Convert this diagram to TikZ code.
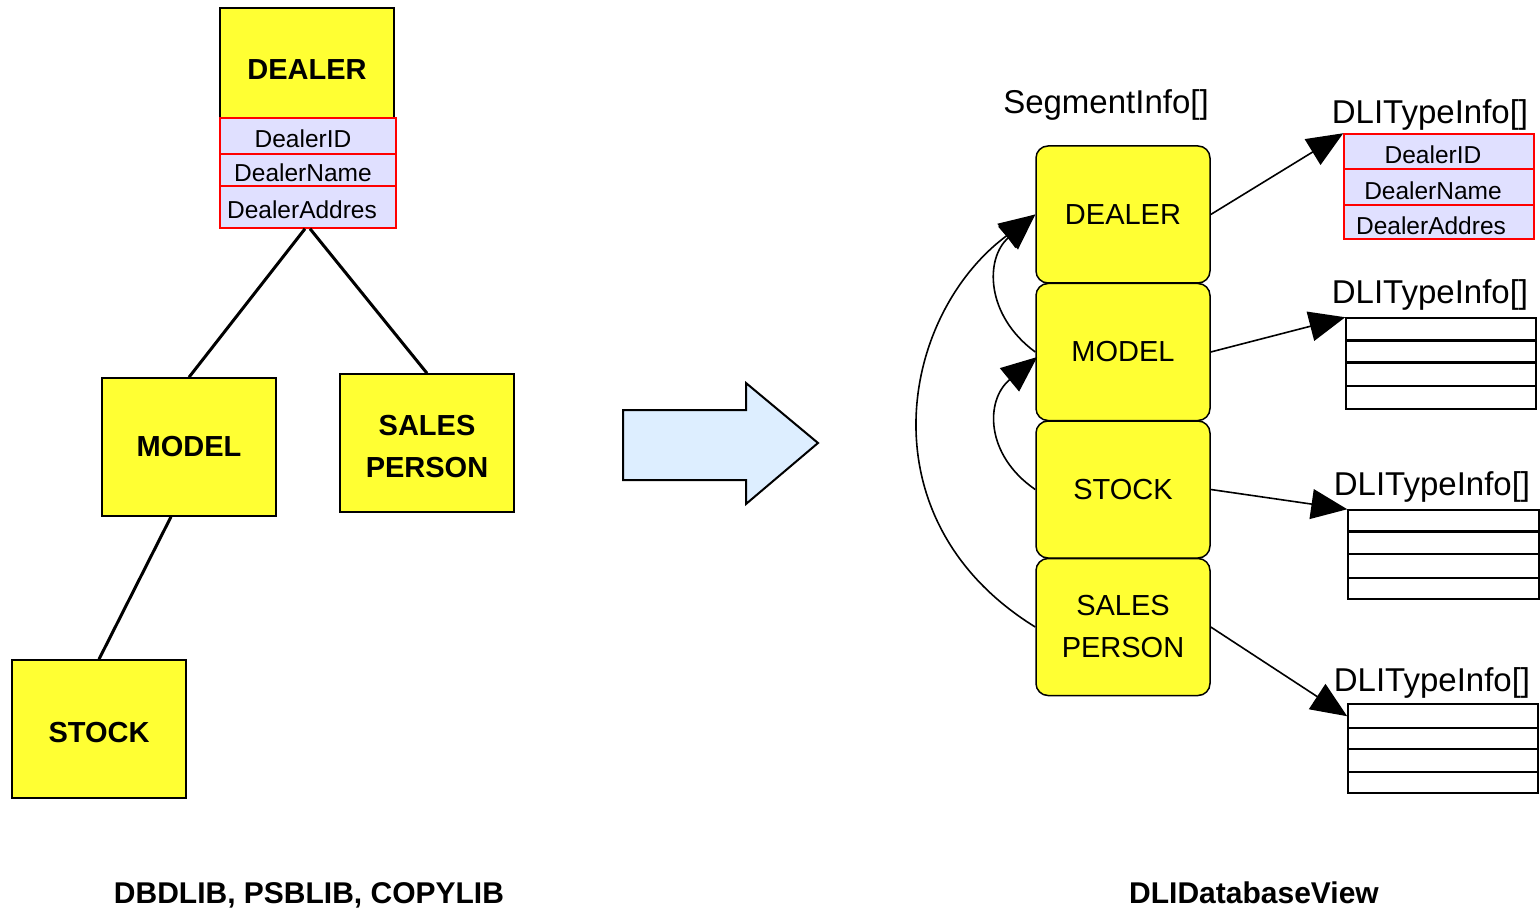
\documentclass[tikz,border=0pt]{standalone}
\usepackage{fontspec}
\setmainfont{Liberation Sans}
\usetikzlibrary{arrows.meta,calc}
\definecolor{segyellow}{HTML}{FFFF33}
\definecolor{fieldlav}{HTML}{E0E0FF}
\definecolor{arrowblue}{HTML}{DDEEFF}
\definecolor{fieldred}{HTML}{FF0000}
\begin{document}
\begin{tikzpicture}[x=1pt,y=-1pt,
  lbox/.style={draw, line width=1.5pt, fill=segyellow, inner sep=0pt, minimum width=174pt, minimum height=138pt, font=\fontsize{29}{42}\selectfont\bfseries, align=center},
  field/.style={draw=fieldred, line width=1.5pt, fill=fieldlav, inner sep=0pt, text height=23pt, text depth=0pt, font=\fontsize{24.5}{28}\selectfont},
  rfield/.style={field, text height=25pt},
  seg/.style={draw, line width=1.5pt, fill=segyellow, rounded corners=12pt, inner sep=0pt, minimum width=174pt, minimum height=137pt, font=\fontsize{29}{42}\selectfont, align=center},
  arr/.style={draw, line width=1.5pt, fill=white, inner sep=0pt},
  lbl/.style={inner sep=0pt, font=\fontsize{33}{38}\selectfont},
  captxt/.style={inner sep=0pt, font=\fontsize{30}{36}\selectfont\bfseries},
  tree/.style={line width=3pt},
  conn/.style={line width=1.6pt, -{Triangle[length=36pt,width=30pt]}}
]
\useasboundingbox (0,0) rectangle (1540,909);
\fill[white] (0,0) rectangle (1540,909);

% ---------- left tree ----------
\node[lbox, minimum height=110pt, text height=34pt, text depth=0pt] (dealerL) at (307,63) {DEALER};
\node[field, minimum width=176pt, minimum height=36pt] (f1) at (308,136) {DealerID\kern10pt};
\node[field, minimum width=176pt, minimum height=32pt] (f2) at (308,170) {DealerName\kern10pt};
\node[field, minimum width=176pt, minimum height=42pt] (f3) at (308,207) {DealerAddres\kern12pt};
\node[lbox] (modelL) at (189,447) {MODEL};
\node[lbox, text height=69pt, text depth=0pt] (salesL) at (427,443) {SALES\\PERSON};
\node[lbox, text height=27pt, text depth=0pt] (stockL) at (99,729) {STOCK};

\draw[tree] ($(f3.south)+(-3,0)$) -- (modelL.north);
\draw[tree] ($(f3.south)+(2,0)$) -- (salesL.north);
\draw[tree] ($(modelL.south)+(-18,0)$) -- (stockL.north);

\node[captxt] (capL) at (309,895) {DBDLIB, PSBLIB, COPYLIB};

% ---------- block arrow ----------
\draw[line width=2pt, fill=arrowblue, line join=miter]
  (623,410) -- (746,410) -- (746,383) -- (818,443) -- (746,504) -- (746,480) -- (623,480) -- cycle;

% ---------- right side ----------
\node[lbl] (segTitle) at (1106,105) {SegmentInfo[]};
\node[seg] (dealerR) at (1123,214.5) {DEALER};
\node[seg] (modelR) at (1123,352) {MODEL};
\node[seg] (stockR) at (1123,489.5) {STOCK};
\node[seg] (salesR) at (1123,627) {SALES\\PERSON};

% array 1
\node[lbl] (t1) at (1430,115) {DLITypeInfo[]};
\node[rfield, minimum width=190pt, minimum height=35pt] (a1r1) at (1439,151.5) {DealerID\kern12pt};
\node[rfield, minimum width=190pt, minimum height=36pt] (a1r2) at (1439,187) {DealerName\kern12pt};
\node[rfield, minimum width=190pt, minimum height=34pt] (a1r3) at (1439,222) {DealerAddres\kern16pt};

% array 2
\node[lbl] (t2) at (1430,295) {DLITypeInfo[]};
\node[arr, minimum width=190pt, minimum height=91pt] (a2) at (1441,363.5) {};
\draw[line width=3pt] (a2.west |- 0,341) -- (a2.east |- 0,341);
\draw[line width=3pt] (a2.west |- 0,363) -- (a2.east |- 0,363);
\draw[line width=1.5pt] (a2.west |- 0,386) -- (a2.east |- 0,386);

% array 3
\node[lbl] (t3) at (1432,487) {DLITypeInfo[]};
\node[arr, minimum width=191pt, minimum height=89pt] (a3) at (1443.5,554.5) {};
\draw[line width=3pt] (a3.west |- 0,531) -- (a3.east |- 0,531);
\draw[line width=1.5pt] (a3.west |- 0,554) -- (a3.east |- 0,554);
\draw[line width=1.5pt] (a3.west |- 0,578) -- (a3.east |- 0,578);

% array 4
\node[lbl] (t4) at (1432,683) {DLITypeInfo[]};
\node[arr, minimum width=190pt, minimum height=89pt] (a4) at (1443,748.5) {};
\draw[line width=1.5pt] (a4.west |- 0,728) -- (a4.east |- 0,728);
\draw[line width=1.5pt] (a4.west |- 0,749) -- (a4.east |- 0,749);
\draw[line width=1.5pt] (a4.west |- 0,772) -- (a4.east |- 0,772);

% connectors to arrays
\draw[conn] (dealerR.east) -- (a1r1.north west);
\draw[conn] (modelR.east) -- (a2.north west);
\draw[conn] (stockR.east) -- (a3.north west);
\draw[conn] (salesR.east) -- ($(a4.north west)+(0,13)$);

% parent pointers
\draw[conn] (modelR.west) .. controls (985,315) and (985,258) .. (dealerR.west);
\draw[conn] (stockR.west) .. controls (985,455) and (985,400) .. ($(modelR.west)+(2,5)$);
\draw[conn] (salesR.west) .. controls (862,520) and (900,315) .. (dealerR.west);

\node[captxt] (capR) at (1254,893) {DLIDatabaseView};
\end{tikzpicture}
\end{document}
